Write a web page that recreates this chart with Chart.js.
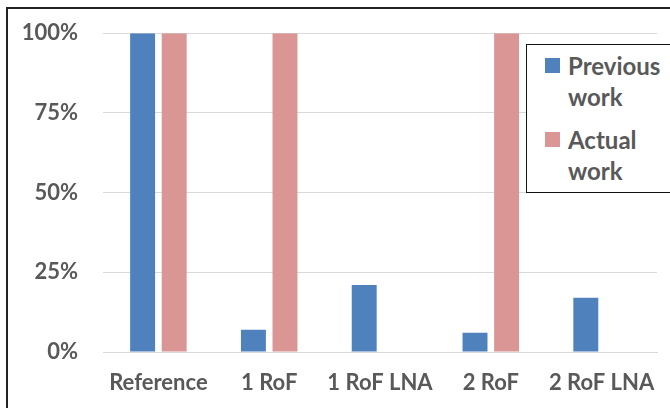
<!DOCTYPE html>
<html>
<head>
<meta charset="utf-8">
<script src="https://cdn.jsdelivr.net/npm/chart.js@4"></script>
<style>
  html, body { margin: 0; padding: 0; background: #fff; }
  body { width: 670px; height: 408px; overflow: hidden; position: relative; font-family: Lato, "Open Sans", sans-serif; }
  #frame { position: absolute; left: 6px; top: 7px; width: 700px; height: 440px; border: 2px solid #222; box-sizing: border-box; }
  #wrap { position: absolute; left: 0; top: -5px; width: 670px; height: 413px; }
  #legend { position: absolute; left: 526px; top: 44px; width: 160px; height: 149px; border: 1.5px solid #111; box-sizing: border-box; background: #fff; }
  .item { position: absolute; left: 18px; font-weight: bold; font-size: 24px; line-height: 31px; color: #595959; }
  .item .sw { position: absolute; left: 0; top: 8px; width: 15px; height: 15px; }
  .item .txt { margin-left: 23px; display: block; }
</style>
</head>
<body>
<div id="frame"></div>
<div id="wrap"><canvas id="grafico"></canvas></div>
<div id="legend"></div>
<script>
// dados
const categorias = ['Reference', '1 RoF', '1 RoF LNA', '2 RoF', '2 RoF LNA'];
const trabalhoAnterior = [100, 7, 21, 6, 17];
const trabalhoAtual = [100, 100, null, 100, null];
const ticksY = [0, 25, 50, 75, 100];

const corAnterior = '#4F81BD';
const corAtual = '#DA9694';
const corTexto = '#595959';

const ctx = document.getElementById('grafico').getContext('2d');

const grafico = new Chart(ctx, {
    type: 'bar',
    data: {
        labels: categorias,
        datasets: [
            { label: 'Previous work', data: trabalhoAnterior, backgroundColor: corAnterior, categoryPercentage: 0.57, barPercentage: 0.79 },
            { label: 'Actual work', data: trabalhoAtual, backgroundColor: corAtual, categoryPercentage: 0.57, barPercentage: 0.79 }
        ]
    },
    options: {
        responsive: true,
        maintainAspectRatio: false,
        animation: false,
        layout: { padding: { top: 0, right: 13, bottom: 0, left: 0 } },
        plugins: { legend: { display: false }, tooltip: { enabled: false } },
        scales: {
            x: {
                grid: { display: false },
                border: { color: '#D9D9D9', width: 1 },
                ticks: { color: corTexto, font: { family: 'Lato', size: 22, weight: 'bold' }, padding: 10, maxRotation: 0 },
                afterFit: s => { s.height = 56; }
            },
            y: {
                min: 0, max: 100,
                afterBuildTicks: s => { s.ticks = ticksY.map(v => ({ value: v })); },
                grid: { color: '#D9D9D9', drawTicks: false },
                border: { display: false },
                ticks: {
                    color: corTexto, font: { family: 'Lato', size: 22, weight: 'bold' }, padding: 25,
                    callback: v => v + '%'
                },
                afterFit: s => { s.width = 103; }
            }
        }
    }
});

// legenda em HTML (texto quebrado em duas linhas como no original)
const legenda = document.getElementById('legend');
grafico.data.datasets.forEach((ds, i) => {
    const partes = ds.label.split(' ');
    const div = document.createElement('div');
    div.className = 'item';
    div.style.top = (5 + i * 74) + 'px';
    div.innerHTML = `<span class="sw" style="background:${ds.backgroundColor}"></span><span class="txt">${partes[0]}<br>${partes.slice(1).join(' ')}</span>`;
    legenda.appendChild(div);
});
</script>
</body>
</html>
